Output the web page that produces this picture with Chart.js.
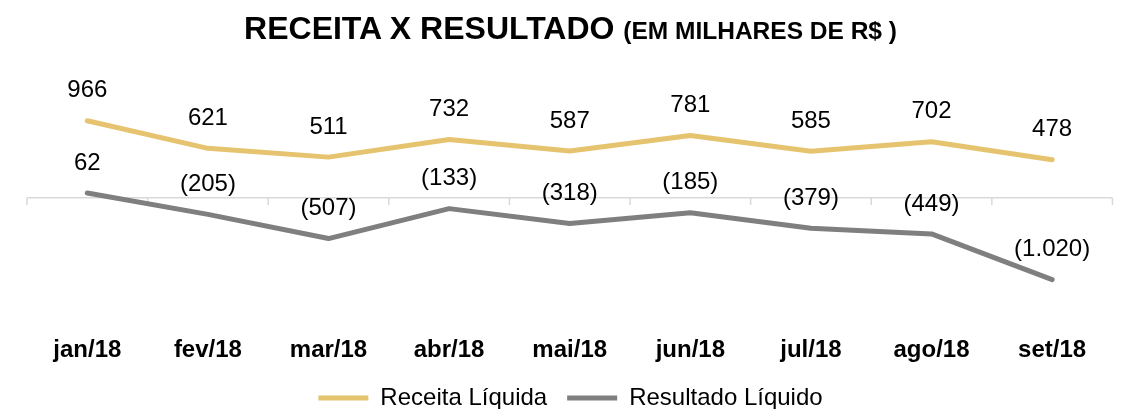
<!DOCTYPE html>
<html>
<head>
<meta charset="utf-8">
<script src="https://cdn.jsdelivr.net/npm/chart.js@4.4.0/dist/chart.umd.min.js"></script>
<style>
  body { margin: 0; background: #fff; }
  #wrap { position: relative; width: 1129px; height: 409px; }
  #title {
    position: absolute; top: 10px; left: 12px; width: 1117px; text-align: center;
    font-family: "Liberation Sans", Arial, sans-serif; font-weight: bold; color: #000;
    font-size: 32px; line-height: 36px; white-space: nowrap;
  }
  #title small { font-size: 24.5px; }
</style>
</head>
<body>
<div id="wrap">
  <div id="title">RECEITA X RESULTADO <small>(EM MILHARES DE R$ )</small></div>
  <canvas id="chart" width="1129" height="409"></canvas>
</div>
<script>
// Months and values (R$ thousands)
const months = ['jan/18', 'fev/18', 'mar/18', 'abr/18', 'mai/18', 'jun/18', 'jul/18', 'ago/18', 'set/18'];
const receita = [966, 621, 511, 732, 587, 781, 585, 702, 478];
const resultado = [62, -205, -507, -133, -318, -185, -379, -449, -1020];

const FONT = '"Liberation Sans", Arial, sans-serif';

// 1020 -> "1.020", negatives in parentheses
function fmt(v) {
    const s = Math.abs(v).toString().replace(/\B(?=(\d{3})+(?!\d))/g, '.');
    return v < 0 ? '(' + s + ')' : s;
}

// value labels above each point
const pointLabels = {
    id: 'pointLabels',
    afterDatasetsDraw(chart) {
        const ctx = chart.ctx;
        ctx.save();
        ctx.font = '24px ' + FONT;
        ctx.fillStyle = '#000';
        ctx.textAlign = 'center';
        ctx.textBaseline = 'middle';
        chart.data.datasets.forEach((ds, i) => {
            chart.getDatasetMeta(i).data.forEach((pt, j) => {
                ctx.fillText(fmt(ds.data[j]), pt.x, pt.y - 30);
            });
        });
        ctx.restore();
    }
};

// little tick marks on the zero line between categories
const zeroTicks = {
    id: 'zeroTicks',
    beforeDatasetsDraw(chart) {
        const ctx = chart.ctx;
        const area = chart.chartArea;
        const y0 = chart.scales.y.getPixelForValue(0);
        const n = months.length;
        ctx.save();
        ctx.strokeStyle = '#d9d9d9';
        ctx.lineWidth = 1.5;
        for (let i = 0; i <= n; i++) {
            const x = area.left + i * (area.right - area.left) / n;
            ctx.beginPath();
            ctx.moveTo(x, y0);
            ctx.lineTo(x, y0 + 7);
            ctx.stroke();
        }
        ctx.restore();
    }
};

new Chart(document.getElementById('chart'), {
    type: 'line',
    data: {
        labels: months,
        datasets: [{
            label: 'Receita Líquida',
            data: receita,
            borderColor: '#E6C36E',
            backgroundColor: '#E6C36E',
            borderWidth: 5,
            borderCapStyle: 'round',
            borderJoinStyle: 'round',
            pointRadius: 0,
            tension: 0
        }, {
            label: 'Resultado Líquido',
            data: resultado,
            borderColor: '#7F7F7F',
            backgroundColor: '#7F7F7F',
            borderWidth: 5,
            borderCapStyle: 'round',
            borderJoinStyle: 'round',
            pointRadius: 0,
            tension: 0
        }]
    },
    options: {
        responsive: false,
        animation: false,
        layout: { padding: { top: 102, left: 27, right: 15, bottom: -11 } },
        plugins: {
            title: { display: false },
            tooltip: { enabled: false },
            legend: {
                position: 'bottom',
                labels: {
                    usePointStyle: true,
                    pointStyle: 'line',
                    pointStyleWidth: 50,
                    padding: 20,
                    color: '#000',
                    font: { family: FONT, size: 24 }
                }
            }
        },
        scales: {
            x: {
                offset: true,
                grid: { display: false, drawTicks: false },
                border: { display: false },
                ticks: {
                    padding: 42,
                    color: '#000',
                    font: { family: FONT, size: 24, weight: 'bold' }
                },
                afterFit: axis => { axis.height = 72; }
            },
            y: {
                min: -1200,
                max: 1200,
                ticks: { display: false, stepSize: 400 },
                border: { display: false },
                grid: {
                    drawTicks: false,
                    lineWidth: 1.5,
                    color: c => c.tick.value === 0 ? '#d9d9d9' : 'rgba(0,0,0,0)'
                }
            }
        }
    },
    plugins: [zeroTicks, pointLabels]
});
</script>
</body>
</html>
